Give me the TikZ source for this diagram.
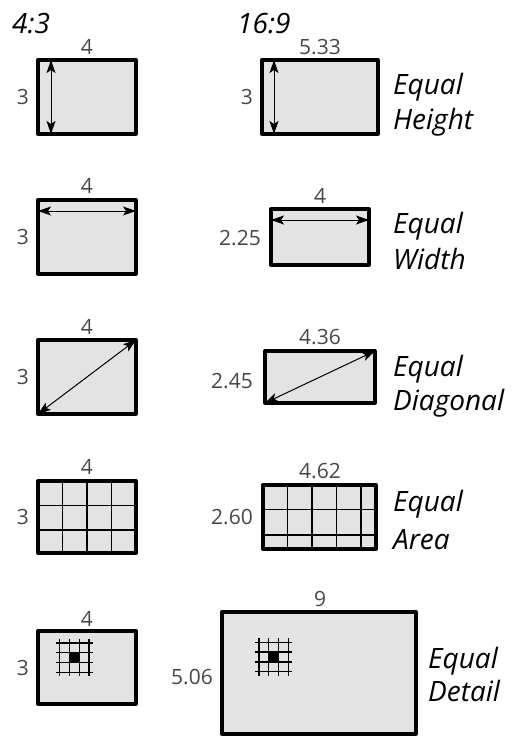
\documentclass[tikz,border=0pt]{standalone}
\usepackage{fontspec}
\setmainfont{Open Sans}
\usepackage{tikz}
\usetikzlibrary{arrows.meta}
\definecolor{screen}{gray}{0.89}
\definecolor{dimtext}{gray}{0.28}
\tikzset{
  screenfill/.style={fill=screen},
  screenedge/.style={draw=black, line width=3.3pt, line join=round},
  dimarrow/.style={{Stealth[length=13pt,width=9pt,inset=3pt]}-{Stealth[length=13pt,width=9pt,inset=3pt]}, line width=1pt},
  gridline/.style={line width=1.4pt},
  dimlabel/.style={font=\fontsize{21}{21}\selectfont, text=dimtext, inner sep=0pt},
  ratiolabel/.style={font=\itshape\fontsize{28}{28}\selectfont, inner sep=0pt, anchor=base west},
  caselabel/.style={font=\itshape\fontsize{28}{28}\selectfont, inner sep=0pt, anchor=base west}
}
\newcommand{\detailgrid}[2]{%
  \foreach \k in {-1,0,1,2} {
    \draw[gridline] ({#1+\k*9.8}, #2-14) -- ({#1+\k*9.8}, #2+23.5);
    \draw[gridline] (#1-14, {#2+\k*9.8}) -- (#1+23.5, {#2+\k*9.8});
  }
  \fill (#1,#2) rectangle (#1+9.8,#2+9.8);}

\begin{document}
\begin{tikzpicture}[x=1pt, y=-1pt]
		\useasboundingbox (0,0) rectangle (527,736);

		\node[ratiolabel] (ratioA) at (12,33.3) {4:3};
		\node[ratiolabel] (ratioB) at (237,33.3) {16:9};

		\fill[screenfill] (38,60) rectangle (136,134);
		\draw[screenedge] (38,60) rectangle (136,134);
		\coordinate (hAtop) at (51,60);
		\coordinate (hAbot) at (51,134);
		\draw[dimarrow] (hAtop) -- (hAbot);
		\node[dimlabel, anchor=base] (hAw) at (87,54) {4};
		\node[dimlabel, anchor=east] (hAh) at (29,97) {3};

		\fill[screenfill] (262,60) rectangle (378,134);
		\draw[screenedge] (262,60) rectangle (378,134);
		\coordinate (hBtop) at (274,60);
		\coordinate (hBbot) at (274,134);
		\draw[dimarrow] (hBtop) -- (hBbot);
		\node[dimlabel, anchor=base] (hBw) at (320,54) {5.33};
		\node[dimlabel, anchor=east] (hBh) at (253,97) {3};
		\node[caselabel] (hEq) at (393,94) {Equal};
		\node[caselabel] (hName) at (393,129.3) {Height};

		\fill[screenfill] (38,200) rectangle (136,274);
		\draw[screenedge] (38,200) rectangle (136,274);
		\coordinate (wAl) at (38,211);
		\coordinate (wAr) at (136,211);
		\draw[dimarrow] (wAl) -- (wAr);
		\node[dimlabel, anchor=base] (wAw) at (87,193) {4};
		\node[dimlabel, anchor=east] (wAh) at (29,237) {3};

		\fill[screenfill] (271,209) rectangle (369,265);
		\draw[screenedge] (271,209) rectangle (369,265);
		\coordinate (wBl) at (271,220);
		\coordinate (wBr) at (369,220);
		\draw[dimarrow] (wBl) -- (wBr);
		\node[dimlabel, anchor=base] (wBw) at (320,203) {4};
		\node[dimlabel, anchor=east] (wBh) at (261,238) {2.25};
		\node[caselabel] (wEq) at (393,233.3) {Equal};
		\node[caselabel] (wName) at (393,269.3) {Width};

		\fill[screenfill] (38,340) rectangle (136,414);
		\draw[screenedge] (38,340) rectangle (136,414);
		\coordinate (dAbl) at (38,414);
		\coordinate (dAtr) at (136,340);
		\draw[dimarrow] (dAbl) -- (dAtr);
		\node[dimlabel, anchor=base] (dAw) at (87,334) {4};
		\node[dimlabel, anchor=east] (dAh) at (29,377) {3};

		\fill[screenfill] (265,351) rectangle (375,403);
		\draw[screenedge] (265,351) rectangle (375,403);
		\coordinate (dBbl) at (265,403);
		\coordinate (dBtr) at (375,351);
		\draw[dimarrow] (dBbl) -- (dBtr);
		\node[dimlabel, anchor=base] (dBw) at (320,344) {4.36};
		\node[dimlabel, anchor=east] (dBh) at (253,381) {2.45};
		\node[caselabel] (dEq) at (393,376.7) {Equal};
		\node[caselabel] (dName) at (393,410.7) {Diagonal};

		\fill[screenfill] (38,481) rectangle (136,553);
		\foreach \x in {62.5,87,111.5} \draw[gridline] (\x,481) -- (\x,553);
		\foreach \y in {505.5,530} \draw[gridline] (38,\y) -- (136,\y);
		\draw[screenedge] (38,481) rectangle (136,553);
		\node[dimlabel, anchor=base] (aAw) at (87,474) {4};
		\node[dimlabel, anchor=east] (aAh) at (29,517) {3};

		\fill[screenfill] (263,485) rectangle (376,549);
		\foreach \x in {287.5,312,336.5,361} \draw[gridline] (\x,485) -- (\x,549);
		\foreach \y in {509.5,535} \draw[gridline] (263,\y) -- (376,\y);
		\draw[screenedge] (263,485) rectangle (376,549);
		\node[dimlabel, anchor=base] (aBw) at (320,478) {4.62};
		\node[dimlabel, anchor=east] (aBh) at (253,517) {2.60};
		\node[caselabel] (aEq) at (393,511.7) {Equal};
		\node[caselabel] (aName) at (393,549.3) {Area};

		\fill[screenfill] (38,631) rectangle (136,704);
		\detailgrid{69.5}{652.7}
		\draw[screenedge] (38,631) rectangle (136,704);
		\node[dimlabel, anchor=base] (tAw) at (87,626) {4};
		\node[dimlabel, anchor=east] (tAh) at (29,668) {3};

		\fill[screenfill] (222,612) rectangle (416,734);
		\detailgrid{268.7}{652}
		\draw[screenedge] (222,612) rectangle (416,734);
		\node[dimlabel, anchor=base] (tBw) at (320,606) {9};
		\node[dimlabel, anchor=east] (tBh) at (213,677) {5.06};
		\node[caselabel] (tEq) at (428,668.3) {Equal};
		\node[caselabel] (tName) at (428,701.7) {Detail};
	\end{tikzpicture}
\end{document}
